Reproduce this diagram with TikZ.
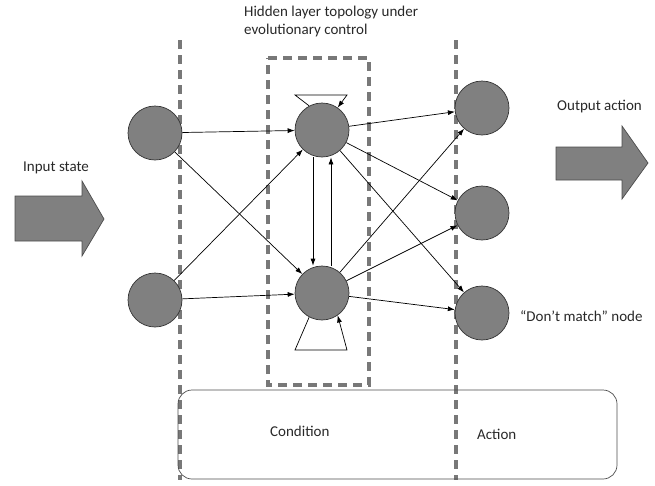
\documentclass[tikz,border=0pt]{standalone}
\usepackage{fontspec}
\setmainfont{Carlito}
\usetikzlibrary{arrows.meta}
\definecolor{dashgray}{RGB}{120,120,120}
\definecolor{nodegray}{RGB}{128,128,128}
\definecolor{txtgray}{RGB}{40,40,40}
\begin{document}
\begin{tikzpicture}[x=1pt,y=-1pt,
  neuron/.style={circle,draw=black!80,line width=0.7pt,fill=nodegray,minimum size=54pt,inner sep=0pt},
  conn/.style={-{Latex[length=7pt,width=5pt]},line width=0.7pt},
  dashln/.style={dashgray,line width=3.2pt,dash pattern=on 9pt off 6pt},
  lbl/.style={font=\fontsize{15}{17.5}\selectfont,text=txtgray,inner sep=0pt},
  bigarrow/.style={draw=black!70,fill=nodegray,line width=0.7pt}]
\useasboundingbox (0,0) rectangle (655,485);
% dashed separators
\draw[dashln] (180,40) -- (180,480);
\draw[dashln] (456,40) -- (456,480);
\draw[dashln] (268,58) -- (369,58) -- (369,385) -- (268,385) -- cycle;
% rounded box
\draw[black!70,line width=0.7pt,rounded corners=14pt] (178,390) rectangle (617,479);
% nodes
\node[neuron] (i1) at (155,133) {};
\node[neuron] (i2) at (155,300) {};
\node[neuron] (h1) at (322,130) {};
\node[neuron] (h2) at (322,293) {};
\node[neuron] (o1) at (482,108) {};
\node[neuron] (o2) at (482,213) {};
\node[neuron] (o3) at (482,313) {};
% connections
\draw[conn] (i1) -- (h1);
\draw[conn] (i1) -- (h2);
\draw[conn] (i2) -- (h1);
\draw[conn] (i2) -- (h2);
\foreach \h in {h1,h2}{
  \foreach \o in {o1,o2,o3}{
    \draw[conn] (\h) -- (\o);
  }
}
\draw[conn] (h1.south)++(-9,0) coordinate (a1) -- (a1 |- h2.north);
\draw[conn] (h2.north)++(9,0) coordinate (a2) -- (a2 |- h1.south);
% self loops
\coordinate (t1) at (295,95);
\coordinate (t2) at (347,95);
\draw[conn] (h1.118) -- (t1) -- (t2) -- (h1.55);
\coordinate (b1) at (295,350);
\coordinate (b2) at (347,350);
\draw[conn] (h2.242) -- (b1) -- (b2) -- (h2.-55);
% big arrows
\draw[bigarrow] (15,196) -- (82,196) -- (82,181) -- (104,219) -- (82,256) -- (82,241) -- (15,241) -- cycle;
\draw[bigarrow] (556,147) -- (622,147) -- (622,126) -- (648,163) -- (622,199) -- (622,180) -- (556,180) -- cycle;
% labels
\node[lbl,anchor=west] (tin) at (23,168) {Input state};
\node[lbl,anchor=west] (tout) at (557,107) {Output action};
\node[lbl,anchor=west] (tdm) at (520,316) {“Don’t match” node};
\node[lbl,anchor=west] (tcond) at (270,431) {Condition};
\node[lbl,anchor=west] (tact) at (477,434) {Action};
\node[lbl,anchor=north west,align=left] (thid) at (244,6) {Hidden layer topology under\\evolutionary control};
\end{tikzpicture}
\end{document}
